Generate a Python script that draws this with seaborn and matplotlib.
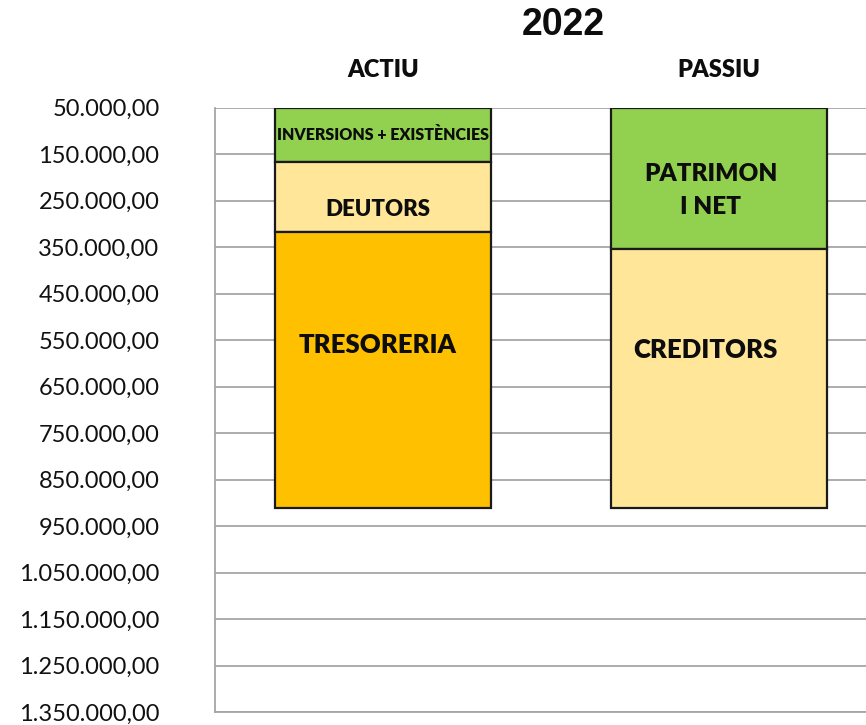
import matplotlib
matplotlib.use("Agg")
import matplotlib.pyplot as plt
import seaborn as sns
import numpy as np
from matplotlib.ticker import FuncFormatter

# ---- data ----
year = "2022"
sides = ["ACTIU", "PASSIU"]
actiu_labels = ["INVERSIONS + EXISTÈNCIES", "DEUTORS", "TRESORERIA"]
actiu_values = [116000, 151000, 595000]
passiu_labels = ["PATRIMON\nI NET", "CREDITORS"]
passiu_values = [304000, 558000]
base_value = 50000
y_ticks = list(range(50000, 1350001, 100000))

# ---- style ----
actiu_colors = ["#92D050", "#FFE699", "#FFC000"]
passiu_colors = ["#92D050", "#FFE699"]
actiu_fs = [11.5, 16, 18.5]
passiu_fs = [17.5, 18.5]
actiu_off = [0, -9, 18]      # label offsets (points, + = up)
passiu_off = [-9, 21]
actiu_xoff = [0, -4, -4]
passiu_xoff = [-6, -10]
BOLD = "heavy"

sns.set_theme(style="white")
plt.rcParams["font.family"] = ["Lato", "DejaVu Sans"]

fig = plt.figure(figsize=(8.66, 7.25), dpi=100)
W, H = 866, 725
left, right, top, bottom = 215, 911, 107.7, 712
ax = fig.add_axes([left / W, 1 - bottom / H, (right - left) / W, (bottom - top) / H])

def draw_side(side, labels, values, colors, fss, offs, xoffs):
    start = base_value
    for lab, val, col, fs, off, xo in zip(labels, values, colors, fss, offs, xoffs):
        sns.barplot(x=[side], y=[val], order=sides, color=col, bottom=start,
                    width=0.643, edgecolor="#1a1a1a", linewidth=1.6, ax=ax,
                    errorbar=None, saturation=1, zorder=3)
        xi = sides.index(side)
        ax.annotate(lab, (xi, start + val / 2), xytext=(xo, off),
                    textcoords="offset points", ha="center", va="center",
                    fontsize=fs, fontweight=BOLD, color="#0d0d0d",
                    linespacing=1.6, zorder=5)
        start += val

draw_side("ACTIU", actiu_labels, actiu_values, actiu_colors, actiu_fs, actiu_off, actiu_xoff)
draw_side("PASSIU", passiu_labels, passiu_values, passiu_colors, passiu_fs, passiu_off, passiu_xoff)

ax.set_xlim(-0.5, -0.5 + (right - left) / 336)
ax.set_ylim(y_ticks[-1], y_ticks[0])
ax.set_yticks(y_ticks)
fmt = lambda v, p: f"{v:,.2f}".replace(",", "X").replace(".", ",").replace("X", ".")
ax.yaxis.set_major_formatter(FuncFormatter(fmt))
ax.tick_params(axis="y", length=0, pad=40, labelsize=17, labelcolor="#111111")
ax.set_xticks([])
for i, side in enumerate(sides):
    ax.annotate(side, (i, 1.0), xycoords=("data", "axes fraction"),
                xytext=(0, 27), textcoords="offset points", ha="center",
                va="center", fontsize=17, fontweight=BOLD, color="#0d0d0d")
ax.set_xlabel("")
ax.set_ylabel("")
ax.grid(axis="y", color="#A6A6A6", linewidth=1.3, zorder=0)
ax.set_axisbelow(True)
for s in ["top", "right"]:
    ax.spines[s].set_visible(False)
ax.spines["left"].set_color("#A6A6A6")
ax.spines["left"].set_linewidth(1.3)
ax.spines["bottom"].set_color("#A6A6A6")
ax.spines["bottom"].set_linewidth(1.3)

fig.text(563 / W, 1 - 25 / H, year, ha="center", va="center", fontsize=27,
         fontweight="bold", family=["Liberation Sans", "DejaVu Sans"], color="#0d0d0d")

fig.savefig("out.png", dpi=100)
